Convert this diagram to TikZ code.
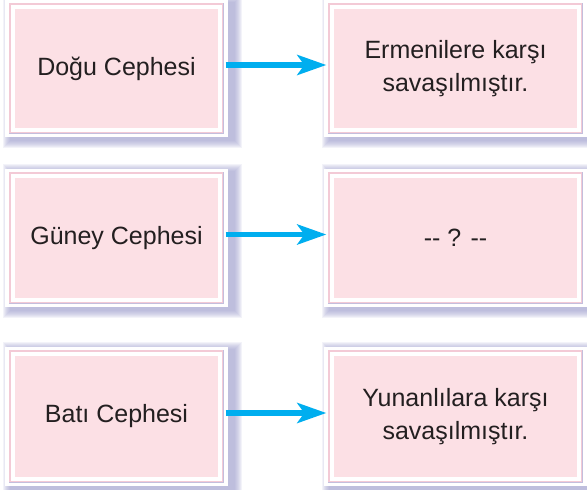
\documentclass[tikz,border=0pt]{standalone}
\usepackage{fontspec}
\setmainfont{Liberation Sans}
\usetikzlibrary{arrows.meta}
\definecolor{pinkfill}{HTML}{FCE0E5}
\definecolor{pinkline}{HTML}{F3CAD6}
\definecolor{lavline}{HTML}{C4BEDD}
\definecolor{shadowcol}{HTML}{9A9ACA}
\definecolor{txt}{HTML}{231F20}
\definecolor{arrowblue}{HTML}{00AEEF}
\tikzset{
  cardline/.style={draw=pinkline, line width=1.3pt, rectangle, inner sep=0pt,
    text=txt, font=\fontsize{25}{33}\selectfont, align=center},
  lavedge/.style={draw=lavline, line width=1.3pt},
  arr/.style={draw=arrowblue, line width=5.5pt,
    -{Stealth[length=29pt,width=20pt,inset=7pt]}}
}
% #1 name, #2 x1, #3 y1, #4 x2, #5 y2 (pink line rectangle), #6 text
\newcommand\drawcard[6]{%
  \foreach \i in {1,...,8}{%
    \fill[shadowcol, opacity=0.12] ({#2-5+6-\i},{#3-4+3-\i}) rectangle ({#4+5+6+\i},{#5+4+3+\i});
  }
  \fill[white] ({#2-5},{#3-4}) rectangle ({#4+5},{#5+4});
  \fill[pinkfill] ({#2+5},{#3+5}) rectangle ({#4-5},{#5-5});
  \node[cardline, minimum width={(#4-#2)*1pt}, minimum height={(#5-#3)*1pt}]
    (#1) at ({(#2+#4)/2},{(#3+#5)/2}) {#6};
  \draw[lavedge] (#1.north east) -- (#1.south east) -- (#1.south west);
}
\begin{document}
\begin{tikzpicture}[x=1pt,y=-1pt]
\useasboundingbox (0,0) rectangle (587,490);
\clip (0,0) rectangle (587,490);
\drawcard{l1}{10}{4}{223}{133}{Doğu Cephesi}
\drawcard{r1}{329}{4}{582}{133}{Ermenilere karşı\\savaşılmıştır.}
\drawcard{l2}{10}{173}{223}{303}{Güney Cephesi}
\drawcard{r2}{329}{173}{582}{303}{-{}- ? -{}-}
\drawcard{l3}{10}{351}{223}{482}{Batı Cephesi}
\drawcard{r3}{329}{351}{582}{482}{Yunanlılara karşı\\savaşılmıştır.}
\foreach \k in {1,2,3}{
  \draw[arr] ([xshift=2pt,yshift=3.5pt]l\k.east) -- ([xshift=-2pt,yshift=3.5pt]r\k.west);
}
\end{tikzpicture}
\end{document}
